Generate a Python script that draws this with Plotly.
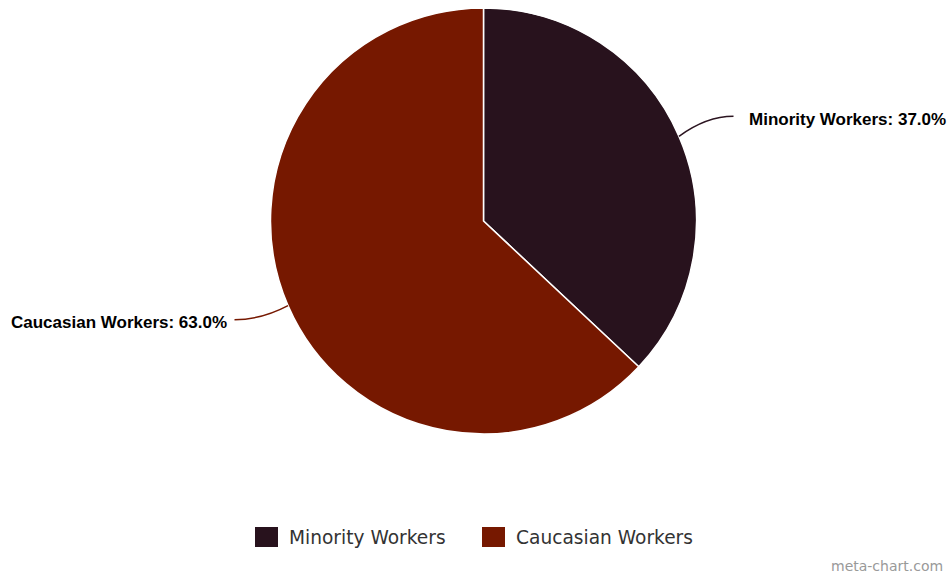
import math
import plotly.graph_objects as go

labels = ["Minority Workers", "Caucasian Workers"]
values = [37.0, 63.0]
colors = ["#28121d", "#761800"]
line_colors = ["#2b1420", "#761800"]

W, H = 952, 573
cx, cy, r = 483.5, 221.0, 213.0

fig = go.Figure(go.Pie(
    labels=labels, values=values, sort=False, direction="clockwise", rotation=0,
    marker=dict(colors=colors, line=dict(color="#ffffff", width=1.5)),
    textinfo="none", hoverinfo="label+percent", showlegend=False,
    domain=dict(x=[(cx - r) / W, (cx + r) / W], y=[1 - (cy + r) / H, 1 - (cy - r) / H]),
))

def px(x, y):
    return x / W, 1 - y / H

total = sum(values)
cum = 0.0
annotations = []
shapes = []
for lab, v, lc in zip(labels, values, line_colors):
    mid = (cum + v / 2) / total * 2 * math.pi
    cum += v
    s, c = math.sin(mid), math.cos(mid)
    ex, ey = cx + r * s, cy - r * c
    ly = cy - 256 * c
    right = s >= 0
    if right:
        lx = cx + r + 50
        endx = lx - 13
        anchor = "left"
    else:
        lx = cx - r - 42
        endx = lx + 6
        anchor = "right"
    endy = ly - 3
    ctrlx = (ex + endx) / 2
    x0, y0 = px(ex, ey)
    x1, y1 = px(ctrlx, endy)
    x2, y2 = px(endx, endy)
    shapes.append(dict(type="path", xref="paper", yref="paper",
                       path=f"M {x0},{y0} Q {x1},{y1} {x2},{y2}",
                       line=dict(color=lc, width=1.5)))
    ax, ay = px(lx, ly)
    annotations.append(dict(x=ax, y=ay, xref="paper", yref="paper", xanchor=anchor,
                            yanchor="middle", showarrow=False,
                            text=f"<b>{lab}: {v:.1f}%</b>",
                            font=dict(family="Liberation Sans, Arial, sans-serif", size=17, color="#000000")))

# legend (drawn manually to match swatch size and spacing)
leg_y = 537
leg_x = [255, 482]
for lab, col, x in zip(labels, colors, leg_x):
    x0, y0 = px(x, leg_y - 10)
    x1, y1 = px(x + 23, leg_y + 10)
    shapes.append(dict(type="rect", xref="paper", yref="paper", x0=x0, y0=y0, x1=x1, y1=y1,
                       fillcolor=col, line=dict(width=0)))
    tx, ty = px(x + 32, leg_y)
    annotations.append(dict(x=tx, y=ty, xref="paper", yref="paper", xanchor="left",
                            yanchor="middle", showarrow=False, text=lab,
                            font=dict(family="DejaVu Sans, sans-serif", size=18.6, color="#333333")))

annotations.append(dict(x=945 / W, y=1 - 566 / H, xref="paper", yref="paper", xanchor="right",
                        yanchor="middle", showarrow=False, text="meta-chart.com",
                        font=dict(family="DejaVu Sans, sans-serif", size=14, color="#999999")))

fig.update_layout(
    width=W, height=H, margin=dict(l=0, r=0, t=0, b=0),
    paper_bgcolor="#ffffff", plot_bgcolor="#ffffff",
    showlegend=False,
    annotations=annotations, shapes=shapes,
)

fig.write_html("out.html", config={"displayModeBar": False},
               post_script="document.body.style.margin='0';document.body.style.overflow='hidden';")
